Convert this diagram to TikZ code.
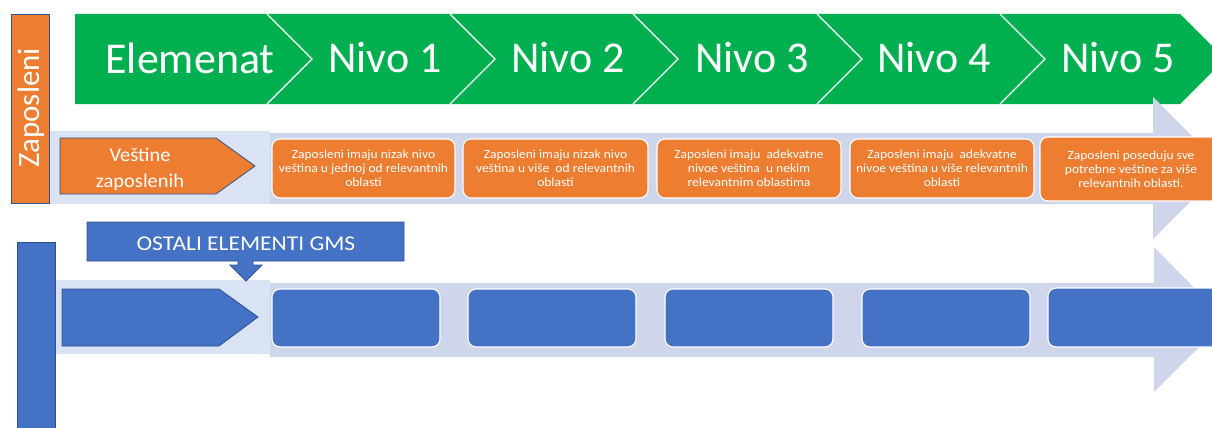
\documentclass[tikz,border=0pt]{standalone}
\usepackage{fontspec}
\setmainfont{Carlito}
\newfontfamily\smallwide[FakeStretch=1.09]{Carlito}
\newfontfamily\midwide[FakeStretch=1.12]{Carlito}
\newfontfamily\pentwide[FakeStretch=1.05]{Carlito}
\definecolor{gmsgreen}{HTML}{00B050}
\definecolor{gmsorange}{HTML}{ED7D31}
\definecolor{gmsblue}{HTML}{4472C4}
\definecolor{gmsedge}{HTML}{2F528F}
\definecolor{bandlight}{HTML}{DAE3F3}
\definecolor{band}{HTML}{CFD5EA}
\tikzset{
  hdr/.style={text=white,font=\fontsize{44}{48}\selectfont,inner sep=0pt},
  obox/.style={fill=gmsorange,draw=white,line width=1.2pt,rounded corners=8pt,inner sep=0pt},
  bbox/.style={fill=gmsblue,draw=white,line width=1.2pt,rounded corners=8pt,inner sep=0pt},
  otext/.style={text=white,font=\smallwide\fontsize{12.4}{14}\selectfont,align=center,inner sep=0pt},
  chev/.style={draw=white,line width=1.3pt},
  edgebox/.style={draw=gmsedge,line width=0.8pt},
}
\begin{document}
\begin{tikzpicture}[x=1pt,y=-1pt]
\useasboundingbox (0,0) rectangle (1212,428);
\clip (0,0) rectangle (1212,428);
% green header
\fill[gmsgreen] (75,14) -- (1180,14) -- (1225,59) -- (1180,104) -- (75,104) -- cycle;
\foreach \x in {267,450,633,817,1000}{
  \draw[chev] (\x,14) -- (\x+45,59) -- (\x,104);
}
\node[hdr] (hel) at (190,58) {Elemenat};
\node[hdr] (hn1) at (385,58) {Nivo 1};
\node[hdr] (hn2) at (568,58) {Nivo 2};
\node[hdr] (hn3) at (752,58) {Nivo 3};
\node[hdr] (hn4) at (934,58) {Nivo 4};
\node[hdr] (hn5) at (1118,58) {Nivo 5};
% top band arrow
\fill[band] (270,133) -- (1153,133) -- (1153,97) -- (1224,168) -- (1153,239) -- (1153,204) -- (270,204) -- cycle;
\fill[bandlight] (49,131) rectangle (270,204);
% Zaposleni bar
\path[fill=gmsorange,edgebox] (11,14) rectangle (49,203);
\node[text=white,rotate=90,font=\fontsize{31}{34}\selectfont,inner sep=0pt] (zap) at (31,108) {Zaposleni};
% Vestine pentagon
\path[fill=gmsorange,edgebox] (60,138) -- (216,138) -- (255,166) -- (216,194) -- (60,194) -- cycle;
\node[text=white,font=\pentwide\fontsize{19.5}{26}\selectfont,align=center,inner sep=0pt] (vest) at (140,169) {Veštine\\zaposlenih};
% orange level boxes
\node[obox,minimum width=183pt,minimum height=59pt] (o1) at (363.5,168.5) {};
\node[obox,minimum width=185pt,minimum height=59pt] (o2) at (555.5,168.5) {};
\node[obox,minimum width=184pt,minimum height=59pt] (o3) at (749,168.5) {};
\node[obox,minimum width=184pt,minimum height=59pt] (o4) at (942,168.5) {};
\node[obox,minimum width=190pt,minimum height=64pt] (o5) at (1135,169) {};
\node[otext] (t1) at (o1) {Zaposleni imaju nizak nivo\\veština u jednoj od relevantnih\\oblasti};
\node[otext] (t2) at (o2) {Zaposleni imaju nizak nivo\\veština u više\ \ od relevantnih\\oblasti};
\node[otext] (t3) at (o3) {Zaposleni imaju\ \ adekvatne\\nivoe veština\ \ u nekim\\relevantnim oblastima};
\node[otext] (t4) at (o4) {Zaposleni imaju\ \ adekvatne\\nivoe veština u više relevantnih\\oblasti};
\node[otext] (t5) at (1131,169) {Zaposleni poseduju sve\\potrebne veštine za više\\relevantnih oblasti.};
% bottom band arrow
\fill[band] (270,283) -- (1154,283) -- (1154,247) -- (1226,320) -- (1154,392) -- (1154,357) -- (270,357) -- cycle;
\fill[bandlight] (55,280) rectangle (270,354);
% blue vertical bar
\path[fill=gmsblue,edgebox] (17,242) rectangle (55,440);
% OSTALI ELEMENTI GMS callout
\path[fill=gmsblue,edgebox] (87,222) -- (404,222) -- (404,261) -- (253,261) -- (253,265) -- (262,265) -- (246,281) -- (230,265) -- (238,265) -- (238,261) -- (87,261) -- cycle;
\node[text=white,font=\midwide\fontsize{21}{24}\selectfont,inner sep=0pt] (ost) at (246,243.5) {OSTALI ELEMENTI GMS};
% blue pentagon
\path[fill=gmsblue,edgebox] (62,289) -- (219,289) -- (258,317) -- (219,346) -- (62,346) -- cycle;
\node[inner sep=0pt] (bp) at (150,317) {};
% blue level boxes
\node[bbox,minimum width=168pt,minimum height=58pt] (b1) at (356,318) {};
\node[bbox,minimum width=168pt,minimum height=58pt] (b2) at (552,318) {};
\node[bbox,minimum width=168pt,minimum height=58pt] (b3) at (749,318) {};
\node[bbox,minimum width=168pt,minimum height=58pt] (b4) at (946,318) {};
\node[bbox,minimum width=180pt,minimum height=59pt] (b5) at (1138,317.5) {};
\end{tikzpicture}
\end{document}
